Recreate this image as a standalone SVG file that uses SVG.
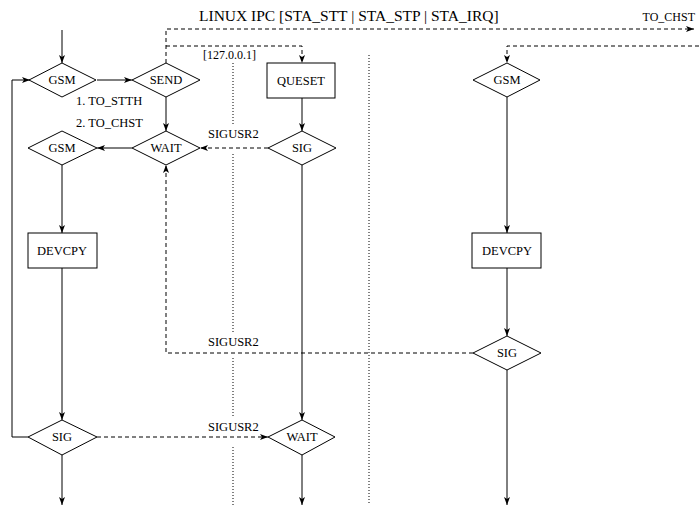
<svg xmlns="http://www.w3.org/2000/svg" width="699" height="512" viewBox="0 0 699 512">
  <style>
    .shape { fill: #fff; stroke: #000; stroke-width: 1; }
    .solid { fill: none; stroke: #000; stroke-width: 1; }
    .dash { fill: none; stroke: #000; stroke-width: 1; stroke-dasharray: 4 3; }
    .dot { fill: none; stroke: #000; stroke-width: 1; stroke-dasharray: 1 2; }
    text { font-family: "Liberation Serif", "Times New Roman", serif; fill: #000; }
    .lbl { font-size: 12.5px; text-anchor: middle; }
    .note { font-size: 12.5px; }
  </style>
  <defs>
    <marker id="arr" viewBox="0 0 8 6" refX="8" refY="3" markerWidth="8" markerHeight="6" markerUnits="userSpaceOnUse" orient="auto">
      <path d="M0,0 L8,3 L0,6 L2,3 z" fill="#000"/>
    </marker>
  </defs>

  <!-- title and free labels -->
  <text x="199" y="21" style="font-size:15.5px">LINUX IPC [STA_STT | STA_STP | STA_IRQ]</text>
  <text x="695" y="21" style="font-size:12px;text-anchor:end">TO_CHST</text>
  <text x="203" y="59" style="font-size:12px">[127.0.0.1]</text>
  <text x="76" y="105" class="note">1. TO_STTH</text>
  <text x="76" y="127" class="note">2. TO_CHST</text>
  <text x="208" y="138" class="note">SIGUSR2</text>
  <text x="208" y="346" class="note">SIGUSR2</text>
  <text x="208" y="431" class="note">SIGUSR2</text>

  <!-- process boundaries -->
  <g id="boundaries">
    <path class="dot" d="M233,63 V125 M233,154 V333 M233,358 V416 M233,447 V505"/>
    <path class="dot" d="M369,55 V505"/>
  </g>

  <g id="connectors">
    <!-- left process -->
    <path class="solid" d="M62,30 V63" marker-end="url(#arr)"/>
    <path class="solid" d="M97,80 H132" marker-end="url(#arr)"/>
    <path class="solid" d="M166,97 V131" marker-end="url(#arr)"/>
    <path class="solid" d="M132,148 H97" marker-end="url(#arr)"/>
    <path class="solid" d="M62,165 V233" marker-end="url(#arr)"/>
    <path class="solid" d="M62,268 V420" marker-end="url(#arr)"/>
    <path class="solid" d="M62,455 V505" marker-end="url(#arr)"/>
    <path class="solid" d="M28,437 H12 V80 H30" marker-end="url(#arr)"/>
    <!-- middle process -->
    <path class="solid" d="M302,98 V131" marker-end="url(#arr)"/>
    <path class="solid" d="M302,165 V420" marker-end="url(#arr)"/>
    <path class="solid" d="M302,455 V505" marker-end="url(#arr)"/>
    <!-- right process -->
    <path class="solid" d="M507,97 V233" marker-end="url(#arr)"/>
    <path class="solid" d="M507,268 V336" marker-end="url(#arr)"/>
    <path class="solid" d="M507,370 V505" marker-end="url(#arr)"/>
    <!-- IPC messages -->
    <path class="dash" d="M166,63 V29 H694" marker-end="url(#arr)"/>
    <path class="dash" d="M166,46 H302 V63" marker-end="url(#arr)"/>
    <path class="dash" d="M699,46 H507 V63" marker-end="url(#arr)"/>
    <path class="dash" d="M268,148 H200" marker-end="url(#arr)"/>
    <path class="dash" d="M473,353 H166 V165" marker-end="url(#arr)"/>
    <path class="dash" d="M97,437 H268" marker-end="url(#arr)"/>
  </g>

  <g id="gsm1">
    <path class="shape" d="M29,80 L62,63 L96,80 L62,97 z"/>
    <text x="62" y="84" class="lbl">GSM</text>
  </g>
  <g id="send">
    <path class="shape" d="M132,80 L166,63 L200,80 L166,97 z"/>
    <text x="166" y="84" class="lbl">SEND</text>
  </g>
  <g id="wait1">
    <path class="shape" d="M132,148 L166,131 L200,148 L166,165 z"/>
    <text x="166" y="152" class="lbl">WAIT</text>
  </g>
  <g id="gsm2">
    <path class="shape" d="M28,148 L62,131 L97,148 L62,165 z"/>
    <text x="62" y="152" class="lbl">GSM</text>
  </g>
  <g id="devcpy1">
    <rect class="shape" x="28" y="233" width="69" height="35"/>
    <text x="62" y="255" class="lbl">DEVCPY</text>
  </g>
  <g id="sig1">
    <path class="shape" d="M28,437 L62,420 L97,437 L62,455 z"/>
    <text x="62" y="441" class="lbl">SIG</text>
  </g>
  <g id="queset">
    <rect class="shape" x="267" y="63" width="68" height="35"/>
    <text x="301" y="85" class="lbl">QUESET</text>
  </g>
  <g id="sig2">
    <path class="shape" d="M268,148 L302,131 L336,148 L302,165 z"/>
    <text x="302" y="152" class="lbl">SIG</text>
  </g>
  <g id="wait2">
    <path class="shape" d="M268,437 L302,420 L335,437 L302,455 z"/>
    <text x="302" y="441" class="lbl">WAIT</text>
  </g>
  <g id="gsm3">
    <path class="shape" d="M473,80 L507,63 L540,80 L507,97 z"/>
    <text x="507" y="84" class="lbl">GSM</text>
  </g>
  <g id="devcpy2">
    <rect class="shape" x="472" y="233" width="69" height="35"/>
    <text x="507" y="255" class="lbl">DEVCPY</text>
  </g>
  <g id="sig3">
    <path class="shape" d="M473,353 L507,336 L541,353 L507,370 z"/>
    <text x="507" y="357" class="lbl">SIG</text>
  </g>
</svg>
